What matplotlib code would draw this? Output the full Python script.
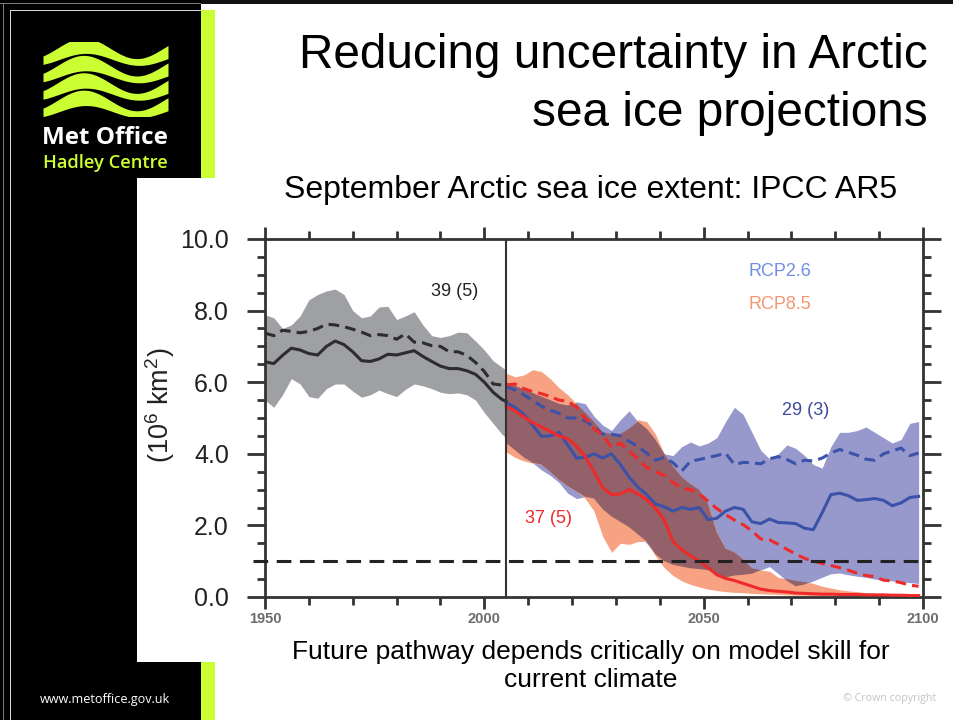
import numpy as np
import matplotlib
matplotlib.use("Agg")
import matplotlib.pyplot as plt
from matplotlib.patches import Rectangle

plt.rcParams['font.family'] = ['Liberation Sans', 'DejaVu Sans']
plt.rcParams['mathtext.fontset'] = 'custom'
plt.rcParams['mathtext.rm'] = 'Liberation Sans'
plt.rcParams['mathtext.it'] = 'Liberation Sans:italic'

# ---------------- data (10^6 km^2) ----------------
hist_years = list(range(1950, 2005, 2)) + [2005]
hist_mean_all = [6.57, 6.52, 6.75, 6.95, 6.9, 6.8, 6.76, 7.0, 7.15, 7.05, 6.85, 6.6, 6.58, 6.65,
                 6.78, 6.76, 6.82, 6.88, 6.72, 6.58, 6.45, 6.38, 6.38, 6.32, 6.22, 6.0, 5.72, 5.52, 5.46]
hist_mean_sel = [7.37, 7.3, 7.45, 7.42, 7.38, 7.42, 7.5, 7.62, 7.6, 7.55, 7.48, 7.4, 7.3, 7.33,
                 7.3, 7.2, 7.35, 7.12, 7.1, 7.02, 7.0, 6.85, 6.85, 6.75, 6.55, 6.3, 5.95, 5.92, 5.87]
hist_hi = [7.88, 7.8, 7.5, 7.6, 7.85, 8.3, 8.45, 8.55, 8.6, 8.45, 8.0, 7.8, 7.85, 8.1,
           8.12, 7.75, 7.85, 7.97, 7.6, 7.3, 7.25, 7.3, 7.4, 7.38, 7.15, 6.9, 6.6, 6.42, 6.34]
hist_lo = [5.5, 5.3, 5.65, 6.1, 5.95, 5.6, 5.55, 5.82, 5.95, 5.95, 5.75, 5.58, 5.65, 5.78,
           5.68, 5.6, 5.8, 5.95, 5.9, 5.82, 5.72, 5.68, 5.7, 5.65, 5.5, 5.15, 4.85, 4.55, 4.44]

fut_years = list(range(2005, 2100, 2))
rcp26_mean_all = [5.42, 5.3, 5.1, 4.8, 4.49, 4.5, 4.6, 4.25, 3.88, 3.9, 4.0, 3.88, 4.0, 3.7, 3.35, 3.07,
                  2.86, 2.6, 2.52, 2.4, 2.5, 2.45, 2.5, 2.16, 2.2, 2.4, 2.5, 2.45, 2.1, 2.05, 2.18, 2.08,
                  2.07, 2.05, 1.92, 1.88, 2.35, 2.86, 2.9, 2.83, 2.7, 2.72, 2.75, 2.7, 2.55, 2.63, 2.78, 2.81]
rcp26_mean_sel = [5.88, 5.78, 5.65, 5.5, 5.33, 5.22, 5.13, 5.0, 5.0, 4.92, 4.75, 4.55, 4.55, 4.5, 4.35, 4.2,
                  4.02, 3.82, 3.9, 3.75, 3.52, 3.79, 3.84, 3.9, 3.95, 4.02, 3.7, 3.76, 3.75, 3.72, 3.86, 3.92,
                  3.84, 3.72, 3.82, 3.8, 3.88, 4.02, 4.12, 4.04, 3.96, 3.85, 3.82, 4.0, 4.08, 4.16, 3.95, 4.02]
rcp26_hi = [6.0, 5.9, 5.8, 5.7, 5.6, 5.5, 5.4, 5.35, 5.45, 5.4, 5.05, 4.8, 4.65, 4.95, 5.2, 4.9,
            4.7, 4.4, 4.0, 3.95, 4.2, 4.33, 4.22, 4.3, 4.45, 4.9, 5.3, 5.1, 4.6, 4.1, 3.86, 4.0,
            4.25, 4.15, 3.95, 3.7, 3.6, 4.2, 4.6, 4.6, 4.65, 4.75, 4.6, 4.45, 4.3, 4.4, 4.85, 4.9]
rcp26_lo = [4.3, 4.1, 3.9, 3.75, 3.55, 3.4, 3.2, 2.9, 2.75, 2.8, 2.75, 2.45, 2.25, 2.1, 1.95, 1.75,
            1.5, 1.2, 1.0, 0.9, 0.85, 0.8, 0.78, 0.75, 0.65, 0.55, 0.6, 0.62, 0.65, 0.75, 0.85, 0.65,
            0.45, 0.3, 0.35, 0.45, 0.55, 0.65, 0.67, 0.62, 0.58, 0.55, 0.5, 0.47, 0.45, 0.43, 0.4, 0.38]
rcp85_mean_all = [5.33, 5.2, 5.03, 4.87, 4.75, 4.63, 4.5, 4.42, 4.22, 3.92, 3.5, 3.05, 2.86, 2.88, 3.0, 2.88,
                  2.72, 2.48, 2.15, 1.55, 1.32, 1.15, 1.0, 0.82, 0.62, 0.52, 0.46, 0.38, 0.3, 0.22, 0.18, 0.16,
                  0.14, 0.11, 0.1, 0.09, 0.08, 0.08, 0.07, 0.07, 0.07, 0.06, 0.06, 0.06, 0.05, 0.05, 0.04, 0.04]
rcp85_mean_sel = [5.92, 5.95, 5.82, 5.74, 5.68, 5.6, 5.5, 5.47, 5.3, 5.0, 4.7, 4.52, 4.18, 4.3, 4.08, 3.85,
                  3.62, 3.5, 3.4, 3.2, 3.03, 3.0, 2.88, 2.68, 2.47, 2.3, 2.15, 2.02, 1.85, 1.62, 1.6, 1.47,
                  1.33, 1.2, 1.08, 1.0, 0.94, 0.88, 0.82, 0.75, 0.66, 0.6, 0.57, 0.47, 0.45, 0.4, 0.33, 0.3]
rcp85_hi = [6.25, 6.15, 6.2, 6.35, 6.3, 6.1, 5.85, 5.65, 5.4, 5.15, 4.9, 4.6, 4.55, 4.55, 4.7, 4.95,
            4.9, 4.55, 4.0, 3.65, 3.35, 3.15, 3.0, 2.6, 1.8, 1.35, 1.25, 1.05, 0.8, 0.75, 0.72, 0.55,
            0.5, 0.45, 0.42, 0.38, 0.3, 0.25, 0.2, 0.17, 0.15, 0.12, 0.1, 0.09, 0.08, 0.07, 0.06, 0.06]
rcp85_lo = [4.05, 3.9, 3.8, 3.74, 3.7, 3.5, 3.28, 3.1, 2.95, 2.75, 2.4, 1.69, 1.25, 1.5, 1.47, 1.55,
            1.55, 1.15, 0.82, 0.6, 0.45, 0.35, 0.28, 0.22, 0.18, 0.15, 0.13, 0.12, 0.1, 0.09, 0.08, 0.07,
            0.06, 0.05, 0.05, 0.04, 0.04, 0.03, 0.03, 0.03, 0.02, 0.02, 0.02, 0.02, 0.01, 0.01, 0.01, 0.01]

ice_free_threshold = 1.0
present_year = 2005

y_ticks = [0, 2, 4, 6, 8, 10]
x_ticks = [1950, 2000, 2050, 2100]

# ---------------- colours ----------------
BLACK_SIDE = '#000000'
LIME = '#ccff33'
AX_COL = '#333333'
GREY_BAND = '#9fa0a4'
BLUE_BAND = '#9799cd'
RED_BAND = '#f7a282'
LINE_BLACK = '#2d2d2d'
LINE_BLUE = '#3b52a8'
LINE_RED = '#ee2a2a'

W, H = 954, 720
fig = plt.figure(figsize=(W / 100, H / 100), dpi=100)
fig.patch.set_facecolor('white')


def fbox(x0, y0, x1, y1):
    """pixel box (top-left origin) -> figure fraction [l, b, w, h]"""
    return [x0 / W, 1 - y1 / H, (x1 - x0) / W, (y1 - y0) / H]


def frect(x0, y0, x1, y1, color, z=-5):
    l, b, w, h = fbox(x0, y0, x1, y1)
    fig.add_artist(Rectangle((l, b), w, h, transform=fig.transFigure,
                             facecolor=color, edgecolor='none', zorder=z))


# slide frame and side bar
frect(0, 0, W, 4, '#111111')
frect(0, 0, 201, H, BLACK_SIDE)
frect(0, 3, 201, 4, '#7a7a7a', z=-4)
frect(3, 3, 4, H, '#7a7a7a', z=-4)
frect(10, 10, 201, 11, '#d8d8d8', z=-4)
frect(10, 10, 11, H, '#d8d8d8', z=-4)
frect(201, 10, 215, H, LIME)
frect(137, 178, 944, 662, 'white', z=-3)

# ---------------- logo ----------------
logo = fig.add_axes(fbox(43, 42, 168, 116))
logo.set_xlim(0, 1)
logo.set_ylim(0, 1)
logo.axis('off')
u = np.linspace(0, 1, 200)
for k in range(4):
    c = 0.84 - k * 0.235
    centre = c + 0.11 * np.sin(2 * np.pi * (u - 0.12) / 0.85)
    thick = 0.075 + 0.03 * np.cos(2 * np.pi * (u - 0.3) / 0.85)
    logo.fill_between(u, centre - thick, centre + thick, color=LIME, lw=0)

fig.text(105 / W, 1 - 138 / H, 'Met Office', color='white', fontsize=17.5,
         fontweight='bold', family=['Open Sans', 'DejaVu Sans'], ha='center', va='center')
fig.text(105 / W, 1 - 163 / H, 'Hadley Centre', color=LIME, fontsize=13.2,
         fontweight='semibold', family=['Open Sans', 'DejaVu Sans'], ha='center', va='center')
fig.text(105 / W, 1 - 699 / H, 'www.metoffice.gov.uk', color='white', fontsize=9.1,
         family=['Open Sans', 'DejaVu Sans'], ha='center', va='center')
fig.text(890 / W, 1 - 699 / H, '\u00a9 Crown copyright', color='#c4c4c4', fontsize=7.7,
         family=['Open Sans', 'DejaVu Sans'], ha='center', va='center')

# ---------------- slide titles ----------------
fig.text(928 / W, 1 - 55 / H, 'Reducing uncertainty in Arctic', fontsize=34.4,
         ha='right', va='center', color='black')
fig.text(928 / W, 1 - 113 / H, 'sea ice projections', fontsize=34.4,
         ha='right', va='center', color='black')
fig.text(591 / W, 1 - 190 / H, 'September Arctic sea ice extent: IPCC AR5', fontsize=23,
         ha='center', va='center', color='black')
fig.text(591 / W, 1 - 652 / H, 'Future pathway depends critically on model skill for',
         fontsize=19, ha='center', va='center', color='black')
fig.text(591 / W, 1 - 680 / H, 'current climate',
         fontsize=19, ha='center', va='center', color='black')

# ---------------- main chart ----------------
ax = fig.add_axes(fbox(265, 239, 923, 597))
ax.set_xlim(1950, 2100)
ax.set_ylim(0, 10)

hy = np.array(hist_years)
fy_ = np.array(fut_years)
ax.fill_between(hy, hist_lo, hist_hi, color=GREY_BAND, lw=0, zorder=1)
ax.fill_between(fy_, rcp26_lo, rcp26_hi, color=BLUE_BAND, lw=0, zorder=1)
ax.fill_between(fy_, rcp85_lo, rcp85_hi, color=RED_BAND, lw=0, zorder=2)
# where the two scenario ranges overlap the colours combine multiplicatively
b_rgb = np.array(matplotlib.colors.to_rgb(BLUE_BAND))
r_rgb = np.array(matplotlib.colors.to_rgb(RED_BAND))
ov_lo = np.maximum(rcp26_lo, rcp85_lo)
ov_hi = np.minimum(rcp26_hi, rcp85_hi)
ax.fill_between(fy_, ov_lo, ov_hi, where=ov_hi > ov_lo, interpolate=True,
                color=tuple(b_rgb * r_rgb), lw=0, zorder=3)

lw = 2.2
ax.plot(hy, hist_mean_all, color=LINE_BLACK, lw=lw, zorder=5)
ax.plot(hy, hist_mean_sel, color=LINE_BLACK, lw=lw, dashes=(3.5, 2), zorder=5)
ax.plot(fy_, rcp26_mean_all, color=LINE_BLUE, lw=lw, zorder=5)
ax.plot(fy_, rcp26_mean_sel, color=LINE_BLUE, lw=lw, dashes=(3.5, 2), zorder=5)
ax.plot(fy_, rcp85_mean_all, color=LINE_RED, lw=lw, zorder=6)
ax.plot(fy_, rcp85_mean_sel, color=LINE_RED, lw=lw, dashes=(3.5, 2), zorder=6)

ax.axvline(present_year, color=AX_COL, lw=1.5, zorder=7)
ax.axhline(ice_free_threshold, xmin=-0.018, xmax=1.011, color='#222222', lw=2.2,
           dashes=(4.8, 2.8), zorder=8, clip_on=False)

ax.text(1993.3, 8.52, '39 (5)', color='#222222', fontsize=13, ha='center', va='center')
ax.text(2067.4, 9.1, 'RCP2.6', color='#6f8fe6', fontsize=13, ha='center', va='center')
ax.text(2067.4, 8.18, 'RCP8.5', color='#f59670', fontsize=13, ha='center', va='center')
ax.text(2073.3, 5.2, '29 (3)', color='#3c4a9e', fontsize=13, ha='center', va='center')
ax.text(2014.7, 2.2, '37 (5)', color=LINE_RED, fontsize=13, ha='center', va='center')

for s in ax.spines.values():
    s.set_linewidth(2.0)
    s.set_color(AX_COL)

ax.set_xticks(x_ticks)
ax.set_xticks(range(1950, 2101, 10), minor=True)
ax.set_yticks(y_ticks)
ax.set_yticks(np.arange(0, 10.01, 0.5), minor=True)
ax.tick_params(axis='both', which='both', direction='out', color=AX_COL, width=2.0,
               top=True, right=True)
ax.tick_params(axis='x', which='major', length=8.5, pad=2, labelsize=10.5,
               labelcolor='#6c6c6c')
ax.tick_params(axis='x', which='minor', length=6)
ax.tick_params(axis='y', which='major', length=13, pad=13, labelsize=18,
               labelcolor='#222222')
ax.tick_params(axis='y', which='minor', length=6)
ax.set_xticklabels([str(t) for t in x_ticks], fontweight='bold')
ax.set_yticklabels([f'{t:.1f}' for t in y_ticks])

fig.text(160 / W, 1 - 405 / H, r'(10$^{6}$ km$^{2}$)', rotation=90, fontsize=19.5,
         ha='center', va='center', color='#222222')

fig.savefig('out.png', dpi=100, facecolor=fig.get_facecolor())
